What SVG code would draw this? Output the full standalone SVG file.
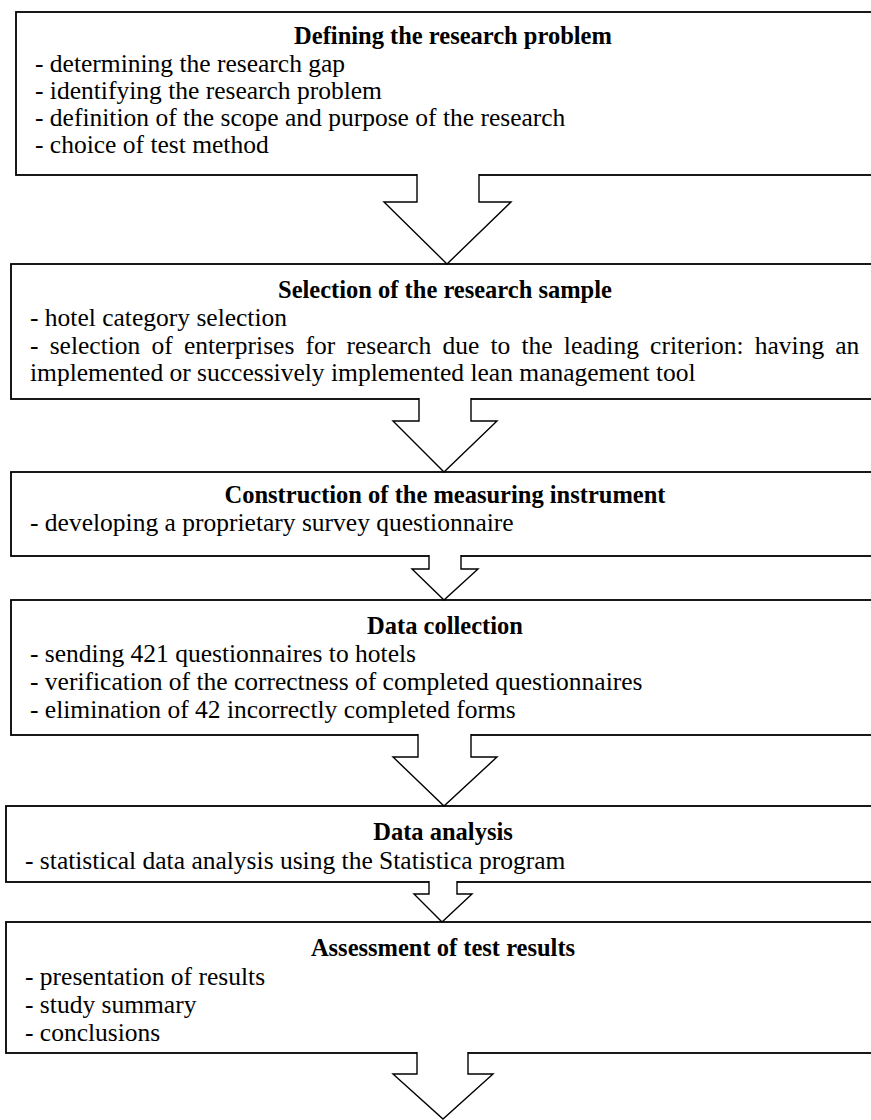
<svg xmlns="http://www.w3.org/2000/svg" width="871" height="1120" viewBox="0 0 871 1120">
<style>
.box{fill:#fff;stroke:#000;stroke-width:1.8}
.arr{fill:#fff;stroke:#000;stroke-width:1.4;stroke-linejoin:miter}
.t{font-family:"Liberation Serif","Times New Roman",serif;font-size:24.5px;font-weight:bold;text-anchor:middle;fill:#000}
.b{font-family:"Liberation Serif","Times New Roman",serif;font-size:25.5px;fill:#000}
</style>
<rect x="0" y="0" width="871" height="1120" fill="#fff"/>
<g id="n1">
<rect class="box" x="16" y="12" width="880" height="163"/>
<text class="t" x="453" y="44">Defining the research problem</text>
<text class="b" x="35" y="72">- determining the research gap</text>
<text class="b" x="35" y="99">- identifying the research problem</text>
<text class="b" x="35" y="126">- definition of the scope and purpose of the research</text>
<text class="b" x="35" y="153">- choice of test method</text>
</g>
<g id="n2">
<rect class="box" x="11" y="264" width="880" height="135"/>
<text class="t" x="445" y="298">Selection of the research sample</text>
<text class="b" x="30" y="326">- hotel category selection</text>
<text class="b" x="30" y="354" word-spacing="4.8">- selection of enterprises for research due to the leading criterion: having an</text>
<text class="b" x="30" y="381">implemented or successively implemented lean management tool</text>
</g>
<g id="n3">
<rect class="box" x="11" y="472" width="880" height="84"/>
<text class="t" x="445" y="503">Construction of the measuring instrument</text>
<text class="b" x="30" y="531">- developing a proprietary survey questionnaire</text>
</g>
<g id="n4">
<rect class="box" x="11" y="600" width="880" height="135"/>
<text class="t" x="445" y="634">Data collection</text>
<text class="b" x="30" y="662">- sending 421 questionnaires to hotels</text>
<text class="b" x="30" y="690">- verification of the correctness of completed questionnaires</text>
<text class="b" x="30" y="718">- elimination of 42 incorrectly completed forms</text>
</g>
<g id="n5">
<rect class="box" x="6" y="806" width="880" height="76"/>
<text class="t" x="443" y="840">Data analysis</text>
<text class="b" x="25" y="869">- statistical data analysis using the Statistica program</text>
</g>
<g id="n6">
<rect class="box" x="6" y="922" width="880" height="131"/>
<text class="t" x="443" y="956">Assessment of test results</text>
<text class="b" x="25" y="985">- presentation of results</text>
<text class="b" x="25" y="1013">- study summary</text>
<text class="b" x="25" y="1041">- conclusions</text>
</g>
<g id="connectors">
<path class="arr" d="M417,174 V202 H384 L447,264 L511,202 H479 V174"/>
<path class="arr" d="M419,398 V421 H393 L444,472 L497,421 H471 V398"/>
<path class="arr" d="M429,555 V569 H412 L444,600 L478,569 H461 V555"/>
<path class="arr" d="M418,734 V757 H393 L444,806 L497,757 H471 V734"/>
<path class="arr" d="M429,881 V894 H414 L442,922 L472,894 H457 V881"/>
<path class="arr" d="M417,1052 V1074 H393 L443,1119 L493,1074 H468 V1052"/>
</g>
</svg>
